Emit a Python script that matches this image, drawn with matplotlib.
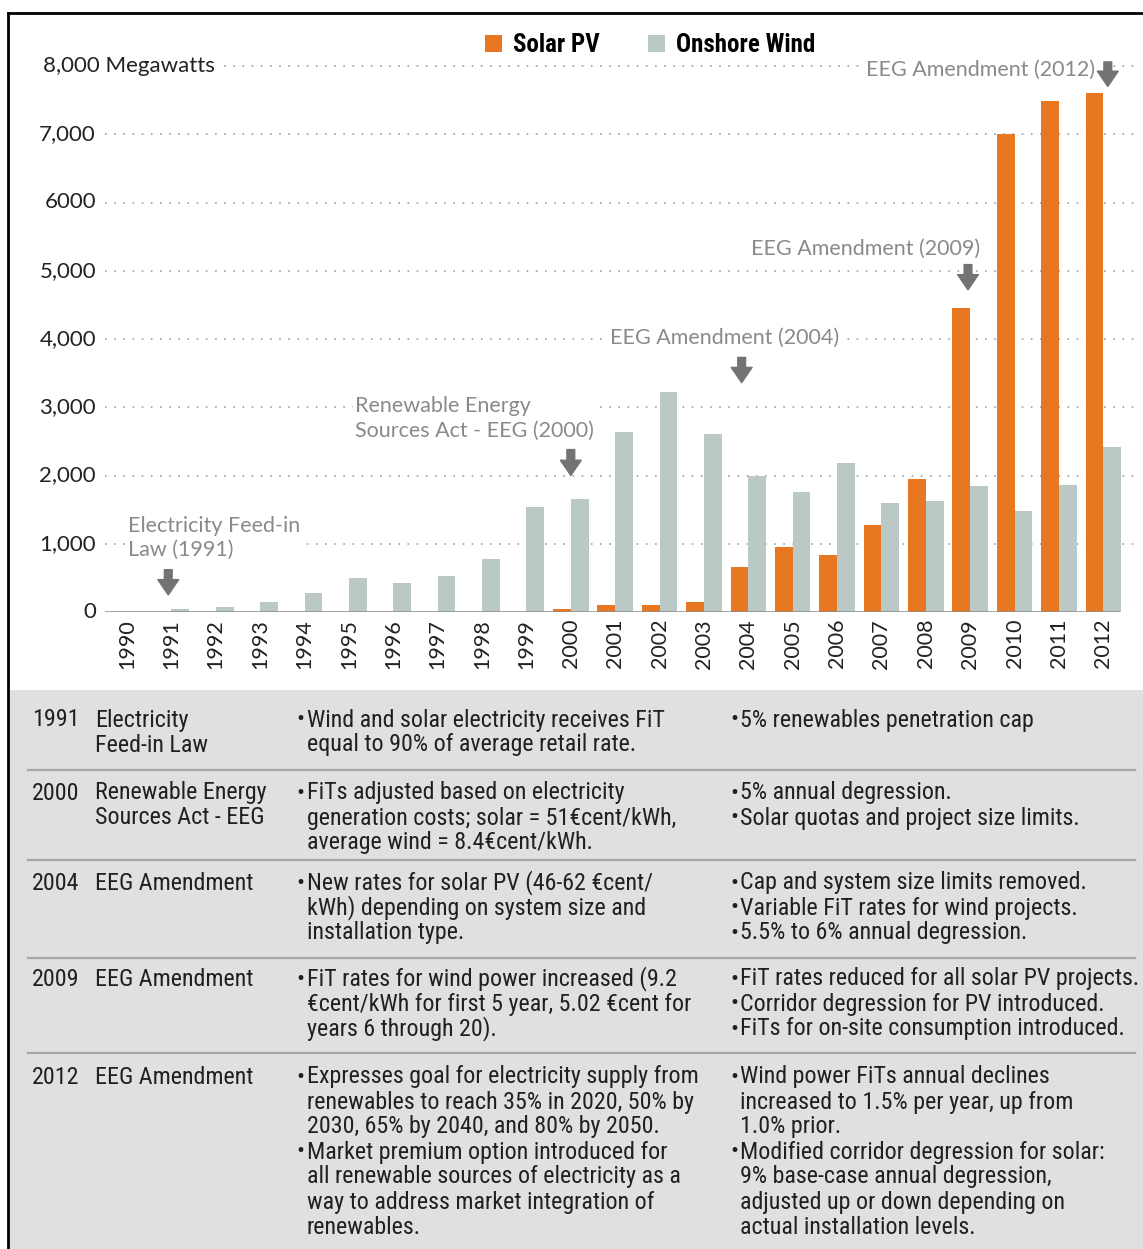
import matplotlib
matplotlib.use('Agg')
import matplotlib.pyplot as plt
import matplotlib.transforms as mtransforms
from matplotlib.patches import Rectangle, Patch
from matplotlib.lines import Line2D

W, H = 1143, 1249

# annual installations in Germany, MW
years = list(range(1990, 2013))
solar_mw = [0, 0, 0, 0, 0, 0, 0, 0, 0, 0, 40, 100, 100, 140, 660, 950, 830,
            1270, 1950, 4450, 7000, 7480, 7600]
wind_mw = [0, 50, 70, 150, 280, 500, 430, 530, 780, 1540, 1660, 2640, 3220,
           2610, 2000, 1760, 2180, 1600, 1630, 1850, 1480, 1860, 2420]

ytick_vals = [0, 1000, 2000, 3000, 4000, 5000, 6000, 7000, 8000]
ytick_labels = ['0', '1,000', '2,000', '3,000', '4,000', '5,000', '6000',
                '7,000', '8,000 Megawatts']

# policy events drawn on the chart: label, text x (year), text y (MW), arrow x, arrow top, arrow tip
event_labels = ['Electricity Feed-in\nLaw (1991)',
                'Renewable Energy\nSources Act - EEG (2000)',
                'EEG Amendment (2004)',
                'EEG Amendment (2009)',
                'EEG Amendment (2012)']
event_text_x = [1990.02, 1995.14, 2000.88, 2004.06, 2006.65]
event_text_y = [1085, 2840, 4015, 5320, 7940]
event_arrow_x = [1990.93, 2000.0, 2003.85, 2008.95, 2012.1]
event_arrow_top = [620, 2380, 3730, 5090, 8060]
event_arrow_tip = [250, 2000, 3360, 4720, 7700]

# table below the chart
row_years = ['1991', '2000', '2004', '2009', '2012']
row_names = [['Electricity', 'Feed-in Law'],
             ['Renewable Energy', 'Sources Act - EEG'],
             ['EEG Amendment'],
             ['EEG Amendment'],
             ['EEG Amendment']]
row_policy = [
    [['Wind and solar electricity receives FiT', 'equal to 90% of average retail rate.']],
    [['FiTs adjusted based on electricity', 'generation costs; solar = 51€cent/kWh,',
      'average wind = 8.4€cent/kWh.']],
    [['New rates for solar PV (46-62 €cent/', 'kWh) depending on system size and',
      'installation type.']],
    [['FiT rates for wind power increased (9.2', '€cent/kWh for first 5 year, 5.02 €cent for',
      'years 6 through 20).']],
    [['Expresses goal for electricity supply from', 'renewables to reach 35% in 2020, 50% by',
      '2030, 65% by 2040, and 80% by 2050.'],
     ['Market premium option introduced for', 'all renewable sources of electricity as a',
      'way to address market integration of', 'renewables.']],
]
row_limits = [
    [['5% renewables penetration cap']],
    [['5% annual degression.'], ['Solar quotas and project size limits.']],
    [['Cap and system size limits removed.'], ['Variable FiT rates for wind projects.'],
     ['5.5% to 6% annual degression.']],
    [['FiT rates reduced for all solar PV projects.'], ['Corridor degression for PV introduced.'],
     ['FiTs for on-site consumption introduced.']],
    [['Wind power FiTs annual declines', 'increased to 1.5% per year, up from', '1.0% prior.'],
     ['Modified corridor degression for solar:', '9% base-case annual degression,',
      'adjusted up or down depending on', 'actual installation levels.']],
]

ORANGE = '#e87722'
WINDGREY = '#bac8c6'
NARROW = ['Roboto Condensed', 'Lato', 'DejaVu Sans']
LIGHT = ['Lato', 'DejaVu Sans']


def fx(px):
    return px / W


def fy(py):
    return 1 - py / H


fig = plt.figure(figsize=(W / 100, H / 100), dpi=100)

# table background and outer frame
fig.patches.append(Rectangle((fx(8), 0), 1, fy(690), transform=fig.transFigure,
                             facecolor='#e0e0e0', edgecolor='none', zorder=0))
fig.lines.append(Line2D([fx(8), fx(8)], [0, fy(13)], transform=fig.transFigure,
                        color='black', lw=2))
fig.lines.append(Line2D([fx(8), 1], [fy(13), fy(13)], transform=fig.transFigure,
                        color='black', lw=2))

# chart
ax_left, ax_right, ax_top, ax_bot = 105, 1135, 30, 612
px_per_year = 44.38
ax = fig.add_axes([fx(ax_left), fy(ax_bot), (ax_right - ax_left) / W, (ax_bot - ax_top) / H])
ax.set_xlim(1990 - (127 - ax_left) / px_per_year, 1990 + (ax_right - 127) / px_per_year)
ax.set_ylim(0, (ax_bot - ax_top) / 68.25 * 1000)

bw = 0.4
ax.bar([y - bw / 2 for y in years], solar_mw, width=bw, color=ORANGE, zorder=3)
ax.bar([y + bw / 2 for y in years], wind_mw, width=bw, color=WINDGREY, zorder=3)
ax.axhline(0, xmin=0, xmax=(1118 - ax_left) / (ax_right - ax_left), color='#8c8c8c',
           lw=1.8, zorder=4)

ax.set_yticks(ytick_vals[1:])
ax.set_yticklabels([])
ax.grid(axis='y', linestyle=(0, (1, 4.5)), color='#a0a0a0', lw=1.2, zorder=1)
ax.set_xticks(years)
ax.set_xticklabels([str(y) for y in years], rotation=90, fontsize=15.5,
                   family=LIGHT, color='#222222')
ax.tick_params(length=0, pad=5)
for s in ax.spines.values():
    s.set_visible(False)

trans = mtransforms.blended_transform_factory(fig.transFigure, ax.transData)
for v, lab in zip(ytick_vals, ytick_labels):
    if lab.endswith('Megawatts'):
        ax.text(fx(43), v, lab, transform=trans, ha='left', va='center', fontsize=16,
                family=LIGHT, color='#222222', zorder=5,
                bbox=dict(facecolor='white', edgecolor='none', pad=2))
    else:
        ax.text(fx(96), v, lab, transform=trans, ha='right', va='center', fontsize=16,
                family=LIGHT, color='#222222', zorder=5)

for lab, tx, ty, axx, a0, a1 in zip(event_labels, event_text_x, event_text_y,
                                     event_arrow_x, event_arrow_top, event_arrow_tip):
    ax.text(tx, ty, lab, ha='left', va='center', fontsize=15.5, family=LIGHT,
            color='#8a8a8a', linespacing=1.3, zorder=5,
            bbox=dict(facecolor='white', edgecolor='none', pad=1.5))
    ax.annotate('', xy=(axx, a1), xytext=(axx, a0), zorder=6,
                arrowprops=dict(arrowstyle='simple,head_length=0.55,head_width=0.75,tail_width=0.28',
                                color='#737373', mutation_scale=20, shrinkA=0, shrinkB=0))

fig.legend(handles=[Patch(facecolor=ORANGE, label='Solar PV'),
                    Patch(facecolor=WINDGREY, label='Onshore Wind')],
           loc='center', bbox_to_anchor=(fx(650), fy(45)), ncol=2, frameon=False,
           prop=dict(family=NARROW, weight='bold', size=18), handlelength=0.7,
           handleheight=0.7, handletextpad=0.45, columnspacing=1.9)

# table
line_h = 25
row_top = [720, 793, 883, 979, 1077]
separators = [770, 860, 958, 1053]
txt = dict(fontsize=17.3, family=NARROW, color='#231f20', va='center', ha='left')

for yy in separators:
    fig.lines.append(Line2D([fx(28), fx(1135)], [fy(yy), fy(yy)], transform=fig.transFigure,
                            color='#a6a6a6', lw=1.6))


def bullets(groups, x_bullet, x_text, y0):
    y = y0
    for grp in groups:
        fig.text(fx(x_bullet), fy(y), '•', **txt)
        for line in grp:
            fig.text(fx(x_text), fy(y), line, **txt)
            y += line_h


for i in range(len(row_years)):
    y0 = row_top[i]
    fig.text(fx(32), fy(y0), row_years[i], **txt)
    for j, nm in enumerate(row_names[i]):
        fig.text(fx(95), fy(y0 + j * line_h), nm, **txt)
    bullets(row_policy[i], 296, 307, y0)
    bullets(row_limits[i], 730, 740, y0)

fig.savefig('out.png', dpi=100)
